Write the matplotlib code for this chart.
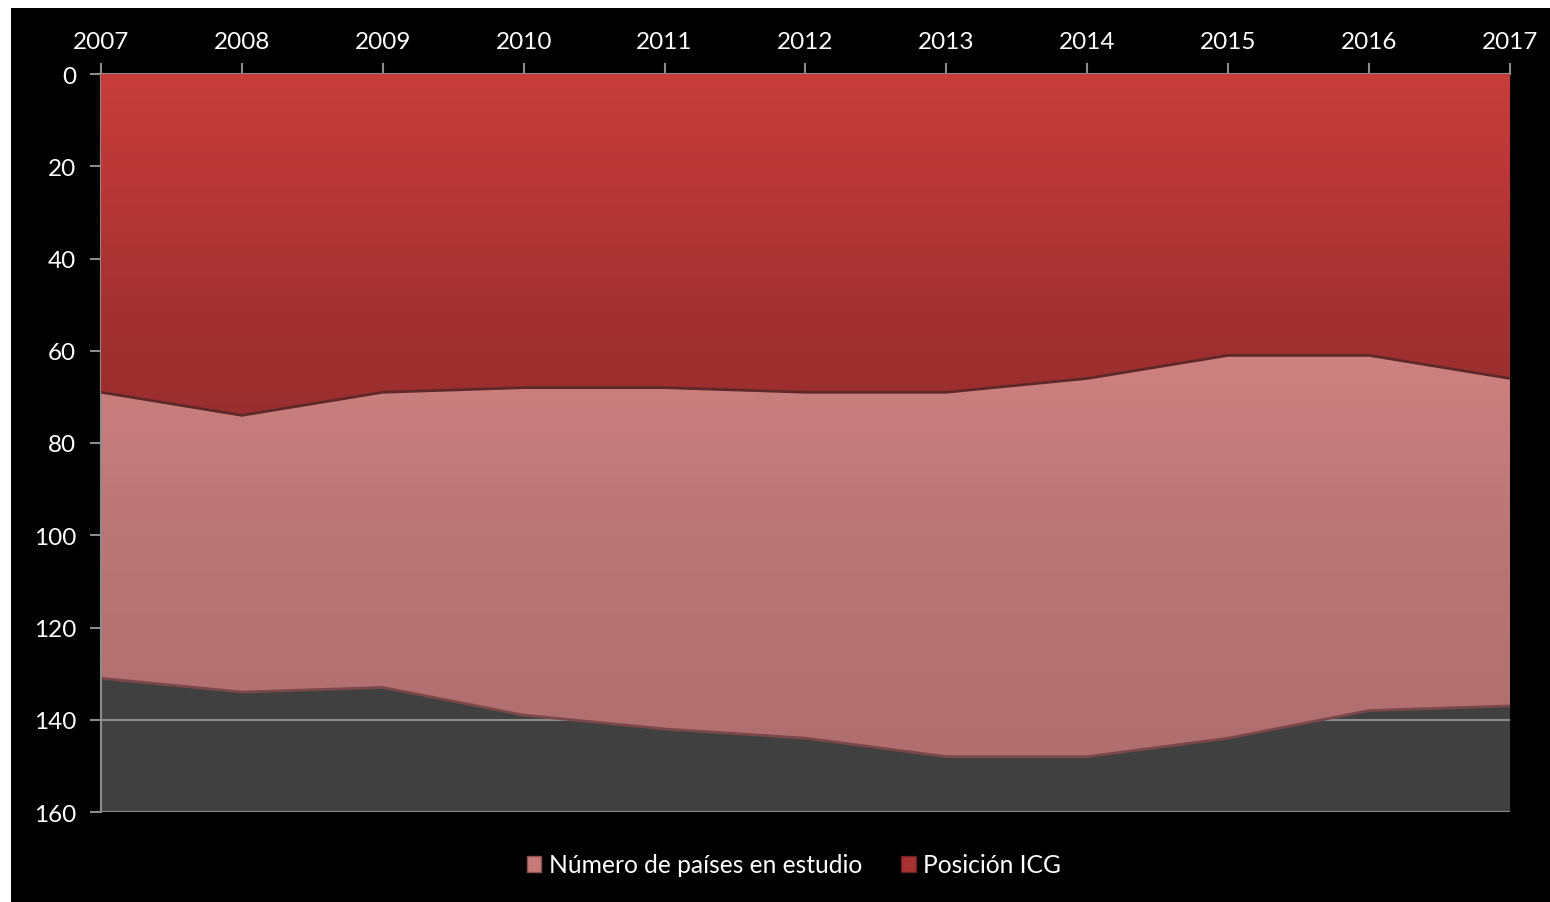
import numpy as np
import matplotlib.pyplot as plt
from matplotlib.colors import LinearSegmentedColormap
from matplotlib.patches import Rectangle

years = [2007, 2008, 2009, 2010, 2011, 2012, 2013, 2014, 2015, 2016, 2017]
paises = [131, 134, 133, 139, 142, 144, 148, 148, 144, 138, 137]
posicion = [69, 74, 69, 68, 68, 69, 69, 66, 61, 61, 66]

plt.rcParams['font.family'] = ['Lato', 'DejaVu Sans']

fig = plt.figure(figsize=(15.5, 9.03), dpi=100, facecolor='white')
fig.patches.append(Rectangle((11 / 1550, 0), 1, 1 - 9 / 903, transform=fig.transFigure,
                             facecolor='black', edgecolor='none', zorder=-10))

ax = fig.add_axes([101 / 1550, 1 - 813 / 903, (1510 - 101) / 1550, (813 - 75) / 903])
ax.set_facecolor('#404040')

cmap_pink = LinearSegmentedColormap.from_list('pink', ['#dc8c8c', '#d48484', '#bb7676', '#b06e6e'])
cmap_red = LinearSegmentedColormap.from_list('red', ['#c73d3b', '#b83737', '#a53131', '#9a2e2e'])


def gradient_area(values, cmap, z, edge):
    poly = ax.fill_between(years, 0, values, facecolor='none', edgecolor='none', zorder=z)
    grad = np.linspace(0, 1, 256).reshape(-1, 1)
    top = max(values)
    img = ax.imshow(grad, cmap=cmap, aspect='auto', extent=(years[0], years[-1], top, 0),
                    zorder=z, interpolation='bicubic')
    path = poly.get_paths()[0]
    img.set_clip_path(path, transform=ax.transData)
    ax.plot(years, values, color=edge, lw=2, zorder=z + 0.1, solid_capstyle='butt')
    return poly


gradient_area(paises, cmap_pink, 2, '#7a4848')
gradient_area(posicion, cmap_red, 3, '#5e2828')

ax.set_xlim(years[0], years[-1])
ax.set_ylim(160, 0)

ax.set_yticks(range(0, 161, 20))
ax.set_xticks(years)
ax.xaxis.tick_top()
ax.grid(axis='y', color='#8c8c8c', lw=1.5, zorder=1)
ax.set_axisbelow(True)
for s in ['right', 'bottom']:
    ax.spines[s].set_visible(False)
ax.spines['left'].set_color('#8c8c8c')
ax.spines['top'].set_color('#8c8c8c')
ax.spines['left'].set_linewidth(1.5)
ax.spines['top'].set_linewidth(1.5)
ax.axhline(160, color='#8c8c8c', lw=2, zorder=1)
ax.tick_params(axis='both', colors='#8c8c8c', labelcolor='white', labelsize=17.5, length=8, width=1.5)
ax.tick_params(axis='y', pad=10)
ax.tick_params(axis='x', pad=8)

h1 = Rectangle((0, 0), 1, 1, facecolor='#c67a7a', edgecolor='#8a5050')
h2 = Rectangle((0, 0), 1, 1, facecolor='#a83232', edgecolor='#6a2020')
leg = fig.legend([h1, h2], ['Número de países en estudio', 'Posición ICG'], loc='center',
                 bbox_to_anchor=(794 / 1550, 1 - 866 / 903), ncol=2, frameon=False,
                 fontsize=17.7, labelcolor='white', handlelength=0.6, handleheight=0.6,
                 handletextpad=0.3, columnspacing=1.6)

fig.savefig('out.png', dpi=100, facecolor='white')
